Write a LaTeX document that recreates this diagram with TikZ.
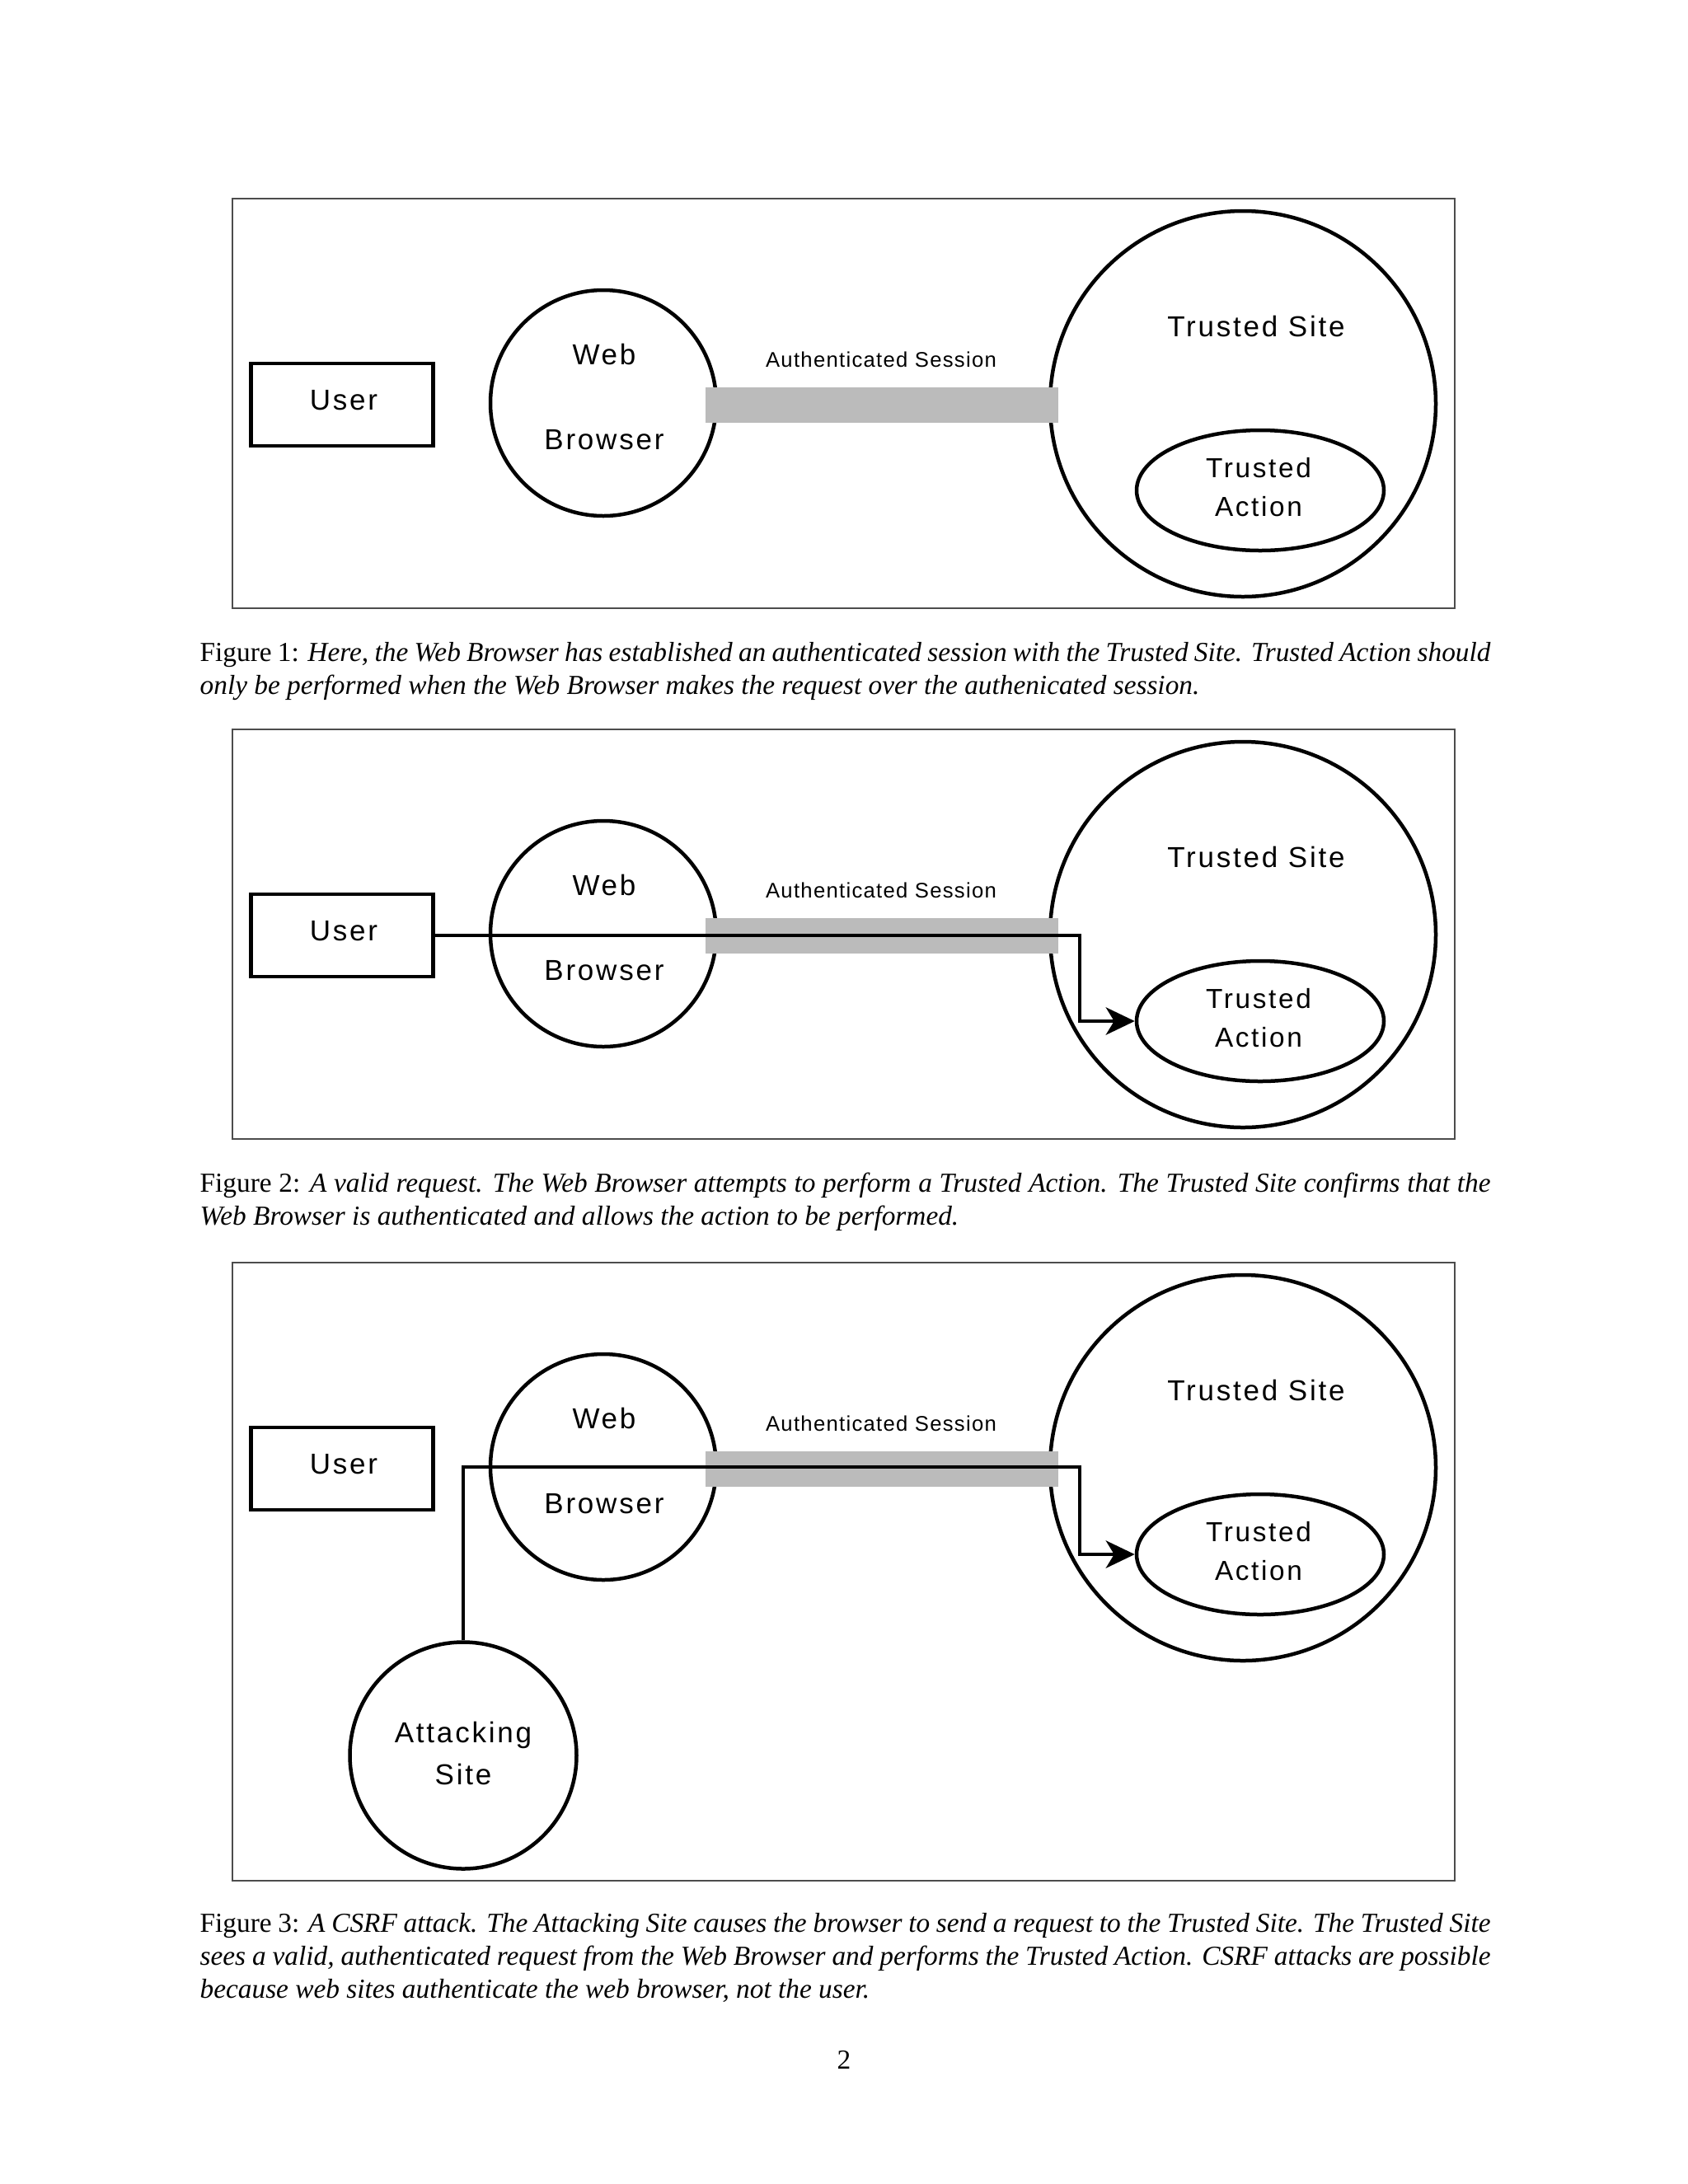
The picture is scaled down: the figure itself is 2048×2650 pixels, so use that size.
\documentclass[tikz,border=0pt]{standalone}
\usepackage{fontspec}
\setmainfont{Liberation Serif}
\newfontfamily\diafont[LetterSpace=8]{Liberation Sans}
\newfontfamily\tagfont[LetterSpace=5]{Liberation Sans}
\usepackage{tikz}
\usetikzlibrary{arrows.meta,positioning,calc,shapes.geometric}
\definecolor{sessgray}{HTML}{BBBBBB}

\begin{document}
\begin{tikzpicture}[x=0.3pt,y=-0.3pt,
    panel/.style={draw=black!70,line width=0.5pt},
    userbox/.style={draw,line width=1.3pt,minimum width=66.3pt,minimum height=30pt,inner sep=0pt},
    bubble/.style={circle,draw,line width=1.35pt,inner sep=0pt},
    actoval/.style={ellipse,draw,line width=1.35pt,minimum width=90pt,minimum height=43.8pt,inner sep=0pt},
    session/.style={fill=sessgray,minimum width=128.4pt,minimum height=12.9pt,inner sep=0pt},
    lbl/.style={anchor=base,inner sep=0pt,font=\diafont\fontsize{10.5}{12}\selectfont},
    req/.style={line width=1.25pt,-{Stealth[length=10.5pt,width=10pt,inset=3pt]}},
    caption/.style={anchor=base west,inner sep=0pt,text width=6.5in,align=justify,font=\fontsize{10}{12}\selectfont}]
  \useasboundingbox (0,0) rectangle (2048,2650);
  % same layout in all three panels
  \foreach \p/\dy/\h in {1/0/497,2/644/497,3/1291/750}{
    \begin{scope}[shift={(0,\dy)}]
      \draw[panel] (282,241) rectangle (1765,241+\h);
      \node[userbox] (user\p) at (415,491) {};
      \node[bubble,minimum size=82.2pt] (web\p) at (732,489) {};
      \node[bubble,minimum size=140.4pt] (site\p) at (1508,490) {};
      \node[actoval] (act\p) at (1529,595) {};
      \node[session] (sess\p) at (1070,491) {};
      \node[lbl] (userlbl\p) at (417,497) {User};
      \node[lbl] (weblbl\p) at (733,442) {Web};
      \node[lbl] (brlbl\p) at (733,545) {Browser};
      \node[lbl] (sitelbl\p) at (1524,408) {Trusted Site};
      \node[lbl,font=\diafont\fontsize{10}{12}\selectfont] (actlbl\p) at (1527,579) {Trusted};
      \node[lbl,font=\diafont\fontsize{10}{12}\selectfont] (actlblb\p) at (1527,626) {Action};
      \node[lbl,font=\tagfont\fontsize{7.7}{9}\selectfont] (sesslbl\p) at (1069,445) {Authenticated Session};
    \end{scope}
  }
  % figure 2: a valid request
  \path ([xshift=-20pt]act2.west) coordinate (drop2);
  \draw[req] (user2.east) -| (drop2) -- (act2.west);
  % figure 3: the forged request
  \node[bubble,minimum size=82.5pt] (atk) at (562,2130) {};
  \node[lbl] (atklbl) at (562,2114) {Attacking};
  \node[lbl] (atklblb) at (562,2165) {Site};
  \path ([xshift=-20pt]act3.west) coordinate (drop3);
  \coordinate (turn3) at (drop3 |- web3.center);
  \draw[req] (atk.north) |- (turn3) |- (act3.west);
  % captions
  \node[caption] (cap1) at (242,802) {Figure 1: {\itshape Here, the Web Browser has established an authenticated session with the Trusted Site. Trusted Action should\linebreak only be performed when the Web Browser makes the request over the authenicated session.}};
  \node[caption] (cap2) at (242,1446) {Figure 2: {\itshape A valid request. The Web Browser attempts to perform a Trusted Action. The Trusted Site confirms that the\linebreak Web Browser is authenticated and allows the action to be performed.}};
  \node[caption] (cap3) at (242,2344) {Figure 3: {\itshape A CSRF attack. The Attacking Site causes the browser to send a request to the Trusted Site. The Trusted Site\linebreak sees a valid, authenticated request from the Web Browser and performs the Trusted Action. CSRF attacks are possible\linebreak because web sites authenticate the web browser, not the user.}};
  \node[anchor=base,inner sep=0pt,font=\fontsize{10}{12}\selectfont] (pagenum) at (1024,2510) {2};
\end{tikzpicture}
\end{document}
